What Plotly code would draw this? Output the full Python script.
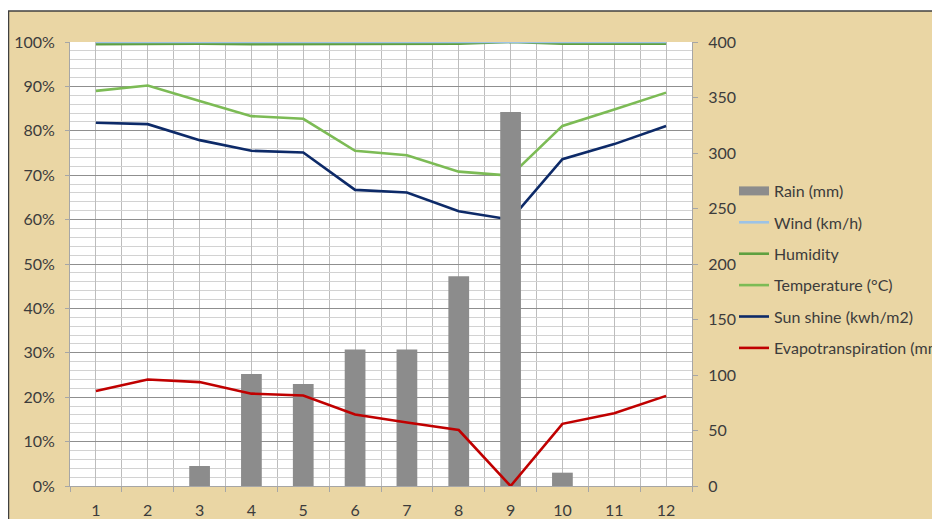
import plotly.graph_objects as go

# ---------------- data ----------------
months = [1, 2, 3, 4, 5, 6, 7, 8, 9, 10, 11, 12]
month_labels = ["1", "2", "3", "4", "5", "6", "7", "8", "9", "10", "11", "12"]
rain_mm = [0, 0, 18, 101, 92, 123, 123, 189, 337, 12, 0, 0]
wind_pct = [100, 100, 100, 100, 100, 100, 100, 100, 100, 100, 100, 100]
humidity_pct = [99.5, 99.6, 99.6, 99.5, 99.5, 99.5, 99.6, 99.6, 100, 99.6, 99.6, 99.6]
temperature_pct = [89.0, 90.2, 86.7, 83.3, 82.7, 75.5, 74.5, 70.8, 69.9, 81.1, 84.8, 88.6]
sunshine_pct = [81.8, 81.5, 77.9, 75.5, 75.1, 66.7, 66.1, 61.9, 60.0, 73.6, 77.0, 81.1]
evapo_mm = [85.6, 96.0, 93.6, 83.2, 81.6, 64.4, 57.2, 50.4, 0, 56.0, 65.6, 81.2]
left_ticks = [0, 10, 20, 30, 40, 50, 60, 70, 80, 90, 100]
left_tick_labels = ["0%", "10%", "20%", "30%", "40%", "50%", "60%", "70%", "80%", "90%", "100%"]
right_ticks = [0, 50, 100, 150, 200, 250, 300, 350, 400]

# ---------------- geometry (figure pixels; page has an 8px body margin) ----------------
W, H = 932, 511
PL, PR, PT, PB = 62, 684, 34, 478
pw, ph = PR - PL, PB - PT


def px(x):
    return (x - PL) / pw


def py(y):
    return (PB - y) / ph


FONT = "Lato, 'Open Sans', sans-serif"
TXT = "#3c3c3c"
RAIN_C = "#8c8c8c"

fig = go.Figure()

fig.add_trace(go.Bar(
    x=months, y=rain_mm, name="Rain (mm)", yaxis="y2",
    marker=dict(color=RAIN_C, line=dict(width=0)),
    showlegend=False,
))
# legend proxy giving the wide grey swatch of the bar series
fig.add_trace(go.Scatter(
    x=[None], y=[None], name="Rain (mm)", mode="lines", yaxis="y2",
    line=dict(color=RAIN_C, width=9), legendgroup="a", legendrank=1,
))
fig.add_trace(go.Scatter(
    x=months, y=humidity_pct, name="Humidity", mode="lines",
    line=dict(color="#5fa040", width=2.6), legendgroup="c", legendrank=3,
))
fig.add_trace(go.Scatter(
    x=months, y=wind_pct, name="Wind (km/h)", mode="lines",
    line=dict(color="#9dc3e6", width=2.6), legendgroup="b", legendrank=2,
))
fig.add_trace(go.Scatter(
    x=months, y=temperature_pct, name="Temperature (°C)", mode="lines",
    line=dict(color="#7cbb55", width=2.6), legendgroup="d", legendrank=4,
))
fig.add_trace(go.Scatter(
    x=months, y=sunshine_pct, name="Sun shine (kwh/m2)", mode="lines",
    line=dict(color="#0d2a68", width=2.6), legendgroup="e", legendrank=5,
))
fig.add_trace(go.Scatter(
    x=months, y=evapo_mm, name="Evapotranspiration (mm)", mode="lines", yaxis="y2",
    line=dict(color="#c00000", width=2.6), legendgroup="f", legendrank=6,
))

shapes = [
    # white strip above the chart frame
    dict(type="rect", xref="paper", yref="paper", x0=px(-5), x1=px(W + 5), y0=py(3), y1=py(-5),
         fillcolor="white", line=dict(width=0), layer="above"),
    # frame border
    dict(type="line", xref="paper", yref="paper", x0=px(0), x1=px(W + 5), y0=py(3), y1=py(3),
         line=dict(color="#404040", width=1.5), layer="above"),
    dict(type="line", xref="paper", yref="paper", x0=px(0.5), x1=px(0.5), y0=py(3), y1=py(H + 5),
         line=dict(color="#404040", width=1.5), layer="above"),
]

fig.update_layout(
    width=W, height=H,
    margin=dict(l=PL, r=W - PR, t=PT, b=H - PB, autoexpand=False),
    paper_bgcolor="#eAd6a4",
    plot_bgcolor="white",
    font=dict(family=FONT, size=16, color=TXT),
    bargap=0.6,
    showlegend=True,
    legend=dict(
        x=px(726), xanchor="left", y=py(166), yanchor="top",
        bgcolor="rgba(0,0,0,0)", font=dict(size=16, color=TXT),
        tracegroupgap=7.6, traceorder="grouped",
    ),
    shapes=shapes,
    xaxis=dict(
        range=[0.5, 12.5], tickmode="array", tickvals=months, ticktext=month_labels,
        showgrid=True, gridcolor="#bdbdbd", gridwidth=1,
        ticks="outside", ticklen=10, tickcolor="rgba(0,0,0,0)",
        showline=True, linecolor="#a6a6a6", linewidth=1,
        minor=dict(tick0=0.5, dtick=1, showgrid=True, gridcolor="#bdbdbd", gridwidth=1,
                   ticks="outside", ticklen=5, tickcolor="#a6a6a6"),
        zeroline=False, fixedrange=True,
    ),
    yaxis=dict(
        range=[0, 100], tickmode="array", tickvals=left_ticks, ticktext=left_tick_labels,
        showgrid=True, gridcolor="#8f8f8f", gridwidth=1,
        ticks="outside", ticklen=4, tickcolor="#a6a6a6", ticklabelstandoff=7,
        showline=True, linecolor="#a6a6a6",
        minor=dict(dtick=2, showgrid=True, gridcolor="#d2d2d2", gridwidth=1),
        zeroline=False,
    ),
    yaxis2=dict(
        range=[0, 400], tickmode="array", tickvals=right_ticks, overlaying="y", side="right",
        showgrid=False, ticks="outside", ticklen=5, tickcolor="#a6a6a6", ticklabelstandoff=7,
        showline=True, linecolor="#a6a6a6", zeroline=False,
    ),
)

fig.write_html("out.html")
